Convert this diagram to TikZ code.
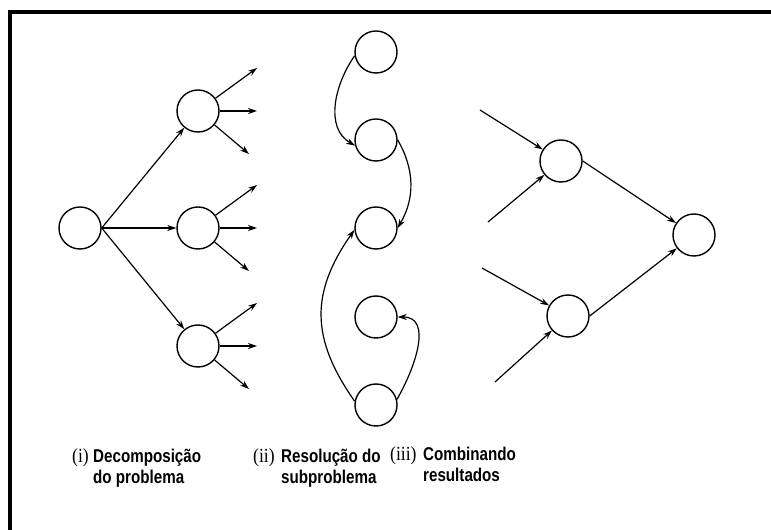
\documentclass[tikz,border=0pt]{standalone}
\usepackage{fontspec}
\usepackage{tikz}
\usetikzlibrary{arrows.meta,positioning}
\newfontfamily\rotfont[FakeStretch=0.82]{Liberation Sans}
\newfontfamily\numfont[FakeStretch=0.88]{Liberation Serif}

\begin{document}
\begin{tikzpicture}[x=1pt,y=1pt,no/.style={circle,draw,line width=1.4pt,minimum size=42pt,inner sep=0pt},seta/.style={-{Stealth[length=9pt,width=6pt]},line width=1.2pt},rotulo/.style={anchor=base west,inner sep=0pt,font=\rotfont\bfseries\fontsize{18.5}{20}\selectfont},num/.style={anchor=base west,inner sep=0pt,font=\numfont\fontsize{20}{20}\selectfont}]
\useasboundingbox (0,0) rectangle (771,530);
\fill[white] (0,0) rectangle (771,530);
\draw[line width=4pt] (10,0) |- (771,518);
% (i) decomposicao
\node[no] (raiz) at (80,302) {};
\node[no] (d1) at (198,419) {}; \node[no] (d2) at (198,302) {}; \node[no] (d3) at (198,184) {};
\draw[seta] (raiz.east)--(d1); \draw[seta] (raiz.east)--(d2); \draw[seta] (raiz.east)--(d3);
\foreach \n in {d1,d2,d3}{
  \path (\n) ++(59,43) coordinate (\n a) (\n) ++(59,0) coordinate (\n b) (\n) ++(51,-43) coordinate (\n c);
  \draw[seta] (\n)--(\n a); \draw[seta] (\n)--(\n b); \draw[seta] (\n)--(\n c);
}
% (ii) subproblemas
\node[no] (s1) at (376,478) {}; \node[no] (s2) at (376,390) {};
\node[no] (s3) at (376,302) {}; \node[no] (s4) at (376,213) {};
\node[no] (s5) at (376,125) {};
\draw[seta] (s1.190) to[out=235,in=150] (s2.195);
\draw[seta] (s2.0) to[out=-60,in=60] (s3.east);
\draw[seta] (s5.170) to[out=125,in=235,looseness=1.15] (s3.185);
\draw[seta] (s5.15) to[out=60,in=0,looseness=1.1] (s4.east);
% (iii) combinacao
\node[no] (c1) at (561,369) {}; \node[no] (c2) at (568,214) {};
\node[no] (res) at (694,295) {};
\coordinate (e1) at (480,420); \coordinate (e2) at (488,308);
\coordinate (e3) at (482,262); \coordinate (e4) at (495,148);
\draw[seta] (e1)--(c1); \draw[seta] (e2)--(c1);
\draw[seta] (e3)--(c2); \draw[seta] (e4)--(c2);
\draw[seta] (c1.east)--(res); \draw[seta] (c2.east)--(res);
% legendas
\node[num] (n1) at (72,67) {(i)};
\node[rotulo] (t1a) at (93,67) {Decomposição}; \node[rotulo] (t1b) at (93,46) {do problema};
\node[num] (n2) at (253,67) {(ii)};
\node[rotulo] (t2a) at (281,67) {Resolução do}; \node[rotulo] (t2b) at (281,46) {subproblema};
\node[num] (n3) at (390,69) {(iii)};
\node[rotulo] (t3a) at (423,69) {Combinando}; \node[rotulo] (t3b) at (423,48) {resultados};
\end{tikzpicture}
\end{document}
